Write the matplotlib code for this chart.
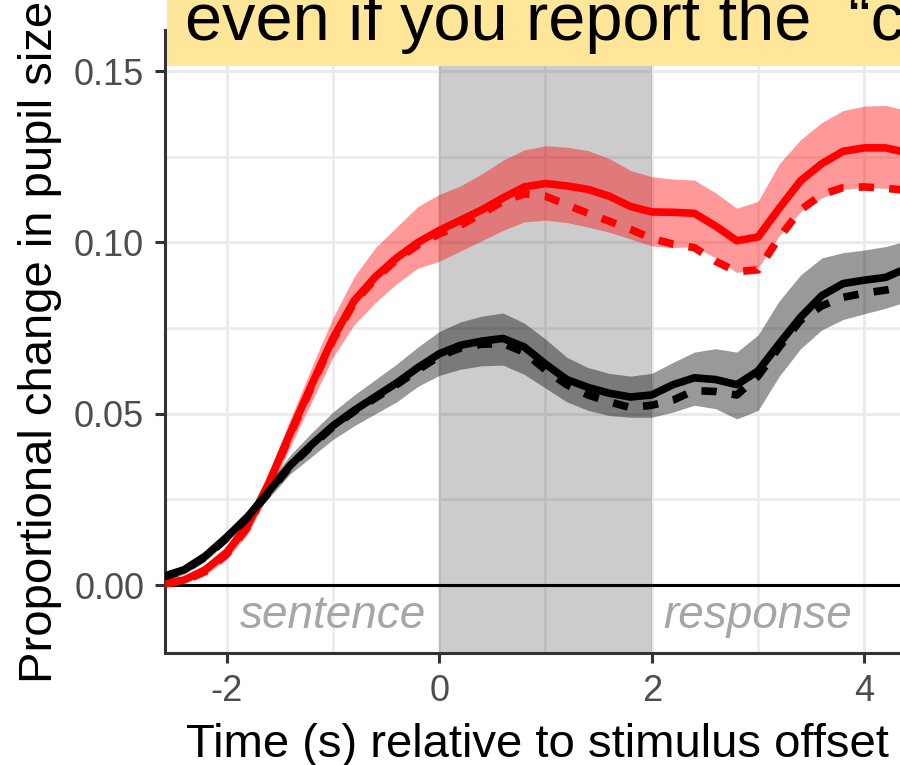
# pupil size over time, two conditions (red / black), solid vs dashed
import matplotlib
matplotlib.use("Agg")
import matplotlib.pyplot as plt
from matplotlib.ticker import MultipleLocator, FormatStrFormatter
from matplotlib.patches import Rectangle

plt.rcParams['font.family'] = ['Liberation Sans', 'DejaVu Sans']
plt.rcParams['axes.unicode_minus'] = False

# time points (s) relative to stimulus offset
time = [-2.6, -2.4, -2.2, -2.0, -1.8, -1.6, -1.4, -1.2, -1.0, -0.8, -0.6, -0.4,
        -0.2, 0.0, 0.2, 0.4, 0.6, 0.8, 1.0, 1.2, 1.4, 1.6, 1.8, 2.0,
        2.2, 2.4, 2.6, 2.8, 3.0, 3.2, 3.4, 3.6, 3.8, 4.0, 4.2, 4.4]

red_solid = [0.0005, 0.0015, 0.0045, 0.0095, 0.0175, 0.0300, 0.0445, 0.0585, 0.0720, 0.0830, 0.0900, 0.0955,
             0.1000, 0.1035, 0.1065, 0.1095, 0.1130, 0.1162, 0.1172, 0.1165, 0.1155, 0.1135, 0.1105, 0.1089,
             0.1088, 0.1085, 0.1048, 0.1005, 0.1016, 0.1100, 0.1180, 0.1230, 0.1266, 0.1276, 0.1276, 0.1262]
red_dashed = [0.0003, 0.0012, 0.0040, 0.0090, 0.0170, 0.0295, 0.0440, 0.0580, 0.0715, 0.0825, 0.0895, 0.0950,
              0.0993, 0.1025, 0.1050, 0.1085, 0.1120, 0.1142, 0.1135, 0.1110, 0.1085, 0.1062, 0.1038, 0.1012,
              0.0995, 0.0985, 0.0945, 0.0915, 0.0920, 0.1015, 0.1095, 0.1140, 0.1160, 0.1162, 0.1158, 0.1152]
red_hi = [0.0012, 0.0025, 0.0060, 0.0115, 0.0200, 0.0330, 0.0485, 0.0635, 0.0780, 0.0900, 0.0985, 0.1045,
          0.1105, 0.1140, 0.1165, 0.1200, 0.1240, 0.1270, 0.1282, 0.1278, 0.1268, 0.1245, 0.1210, 0.1192,
          0.1185, 0.1182, 0.1145, 0.1100, 0.1120, 0.1230, 0.1300, 0.1350, 0.1385, 0.1398, 0.1400, 0.1385]
red_lo = [0.0000, 0.0008, 0.0030, 0.0075, 0.0150, 0.0270, 0.0405, 0.0535, 0.0665, 0.0760, 0.0825, 0.0880,
          0.0925, 0.0945, 0.0975, 0.1005, 0.1035, 0.1060, 0.1065, 0.1058, 0.1045, 0.1030, 0.1010, 0.0990,
          0.0985, 0.0988, 0.0955, 0.0912, 0.0925, 0.1020, 0.1090, 0.1130, 0.1155, 0.1160, 0.1158, 0.1150]

black_solid = [0.0025, 0.0045, 0.0085, 0.0140, 0.0200, 0.0275, 0.0350, 0.0410, 0.0465, 0.0510, 0.0550, 0.0590,
               0.0635, 0.0675, 0.0700, 0.0712, 0.0720, 0.0695, 0.0645, 0.0600, 0.0577, 0.0560, 0.0549, 0.0555,
               0.0585, 0.0605, 0.0600, 0.0585, 0.0625, 0.0705, 0.0782, 0.0845, 0.0880, 0.0890, 0.0898, 0.0925]
black_dashed = [0.0023, 0.0043, 0.0082, 0.0137, 0.0197, 0.0272, 0.0347, 0.0407, 0.0462, 0.0507, 0.0546, 0.0585,
                0.0628, 0.0668, 0.0692, 0.0703, 0.0705, 0.0680, 0.0628, 0.0585, 0.0555, 0.0535, 0.0518, 0.0525,
                0.0540, 0.0568, 0.0565, 0.0555, 0.0610, 0.0695, 0.0773, 0.0815, 0.0840, 0.0852, 0.0861, 0.0873]
black_hi = [0.0035, 0.0057, 0.0100, 0.0155, 0.0220, 0.0300, 0.0380, 0.0445, 0.0505, 0.0555, 0.0600, 0.0645,
            0.0695, 0.0740, 0.0768, 0.0785, 0.0794, 0.0765, 0.0718, 0.0665, 0.0635, 0.0618, 0.0610, 0.0618,
            0.0650, 0.0680, 0.0690, 0.0680, 0.0730, 0.0830, 0.0905, 0.0955, 0.0970, 0.0978, 0.0988, 0.1005]
black_lo = [0.0012, 0.0032, 0.0070, 0.0125, 0.0182, 0.0255, 0.0325, 0.0375, 0.0425, 0.0465, 0.0500, 0.0535,
            0.0580, 0.0612, 0.0630, 0.0640, 0.0642, 0.0615, 0.0575, 0.0535, 0.0510, 0.0495, 0.0490, 0.0490,
            0.0505, 0.0525, 0.0515, 0.0485, 0.0510, 0.0610, 0.0690, 0.0745, 0.0775, 0.0792, 0.0808, 0.0828]

window = (0, 2)  # shaded interval
phase_labels = ['sentence', 'response']
phase_x = [-1, 3]

fig = plt.figure(figsize=(9, 7.65), dpi=100)
ax = fig.add_axes([0.1833, 0.1464, 0.8267, 0.8144])

ax.set_xlim(-2.58, 4.42)
ax.set_ylim(-0.0198, 0.162)
ax.xaxis.set_major_locator(MultipleLocator(2))
ax.xaxis.set_minor_locator(MultipleLocator(1))
ax.yaxis.set_major_locator(MultipleLocator(0.05))
ax.yaxis.set_minor_locator(MultipleLocator(0.025))
ax.yaxis.set_major_formatter(FormatStrFormatter('%.2f'))
ax.grid(which='major', color='#EBEBEB', lw=2.2)
ax.grid(which='minor', color='#EBEBEB', lw=1.8)
ax.set_axisbelow(True)

ax.axvspan(window[0], window[1], color='black', alpha=0.2, lw=0, zorder=1)
ax.fill_between(time, red_lo, red_hi, color='red', alpha=0.4, lw=0, zorder=2)
ax.fill_between(time, black_lo, black_hi, color='black', alpha=0.4, lw=0, zorder=2)
ax.axhline(0, color='black', lw=2.2, zorder=3)

line_kw = dict(lw=5.5, zorder=4, solid_joinstyle='round', dash_joinstyle='round',
               solid_capstyle='butt', dash_capstyle='butt')
ax.plot(time, red_solid, color='red', **line_kw)
ax.plot(time, red_dashed, color='red', ls=(0, (2.0, 2.0)), **line_kw)
ax.plot(time, black_solid, color='black', **line_kw)
ax.plot(time, black_dashed, color='black', ls=(0, (2.0, 2.0)), **line_kw)

for lab, xp in zip(phase_labels, phase_x):
    ax.text(xp, -0.0125, lab, ha='center', va='baseline', style='italic',
            fontsize=33, color='#A6A6A6', zorder=5)

for s in ['top', 'right']:
    ax.spines[s].set_visible(False)
for s in ['left', 'bottom']:
    ax.spines[s].set_color('#333333')
    ax.spines[s].set_linewidth(2.2)
ax.tick_params(which='major', length=7, width=2.2, color='#333333',
               labelsize=26, labelcolor='#4D4D4D', pad=8)
ax.tick_params(which='minor', length=0)

ax.set_xlabel('Time (s) relative to stimulus offset', fontsize=34, color='black')
ax.set_ylabel('Proportional change in pupil size', fontsize=34, color='black')
ax.xaxis.set_label_coords(0.5, -0.112)
ax.yaxis.set_label_coords(-0.138, 0.5)

# yellow banner across the top
fig.patches.append(Rectangle((0.1856, 0.9137), 0.82, 0.1, transform=fig.transFigure,
                             facecolor='#FFE699', edgecolor='none', zorder=5))
fig.text(0.2055, 1 - 40 / 765, 'even if you report the  \u201ccorrect\u201d answer',
         fontsize=48, color='black', ha='left', va='baseline', zorder=6)

fig.savefig('out.png', dpi=100)
